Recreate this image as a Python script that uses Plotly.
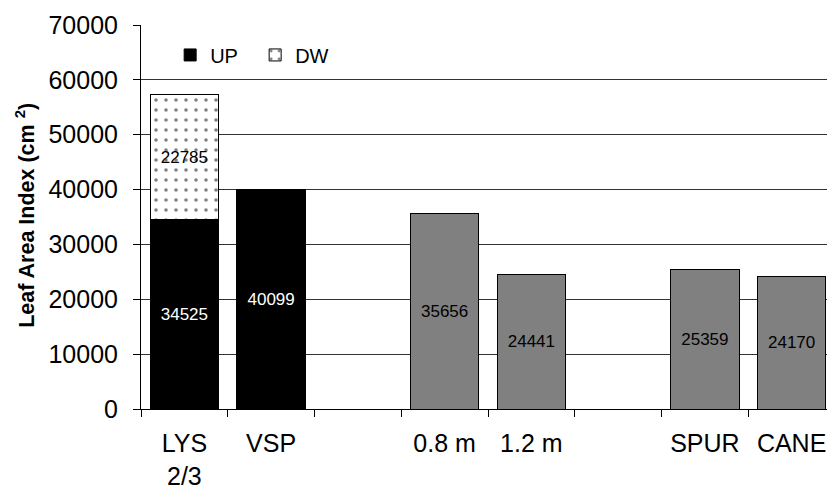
import plotly.graph_objects as go

categories = ["LYS<br>2/3", "VSP", " ", "0.8 m", "1.2 m", "  ", "SPUR", "CANE"]
up_cats = ["LYS<br>2/3", "VSP"]
up_vals = [34525, 40099]
dw_cats = ["LYS<br>2/3"]
dw_vals = [22785]
gray_cats = ["0.8 m", "1.2 m", "SPUR", "CANE"]
gray_vals = [35656, 24441, 25359, 24170]
y_ticks = [0, 10000, 20000, 30000, 40000, 50000, 60000, 70000]

FONT = "Liberation Sans, Arial, sans-serif"

fig = go.Figure()
fig.add_trace(go.Bar(
    x=up_cats, y=up_vals, name="UP",
    marker=dict(color="black", line=dict(color="black", width=1)),
    text=[str(v) for v in up_vals], textposition="inside", insidetextanchor="middle",
    textfont=dict(color="white", size=17, family=FONT),
))
fig.add_trace(go.Bar(
    x=dw_cats, y=dw_vals, name="DW",
    marker=dict(color="white", line=dict(color="black", width=1),
                pattern=dict(shape=".", fgcolor="black", bgcolor="white", size=10, solidity=0.1)),
    text=[str(v) for v in dw_vals], textposition="inside", insidetextanchor="middle",
    textfont=dict(color="black", size=17, family=FONT),
))
fig.add_trace(go.Bar(
    x=gray_cats, y=gray_vals, name="other", showlegend=False,
    marker=dict(color="#808080", line=dict(color="black", width=1)),
    text=[str(v) for v in gray_vals], textposition="inside", insidetextanchor="middle",
    textfont=dict(color="black", size=17, family=FONT),
))

fig.update_layout(
    width=827, height=480,
    barmode="stack", bargap=0.21,
    plot_bgcolor="white", paper_bgcolor="white",
    margin=dict(l=133, r=0, t=17, b=79),
    font=dict(family=FONT, color="black"),
    legend=dict(orientation="h", x=0.042, y=0.922, xanchor="left", yanchor="middle",
                font=dict(size=20), bgcolor="rgba(0,0,0,0)", traceorder="normal",
                entrywidth=40, entrywidthmode="pixels"),
    uniformtext=dict(mode=False),
    annotations=[dict(
        text="<b>Leaf Area Index (cm <sup>2</sup>)</b>", textangle=-90,
        xref="paper", yref="paper", x=(17 - 133) / 694, y=0.503,
        xanchor="center", yanchor="middle", showarrow=False,
        font=dict(size=21.5, family=FONT),
    )],
)
fig.update_xaxes(
    type="category", categoryorder="array", categoryarray=categories,
    range=[-0.5, 7.5], tickson="boundaries", ticks="outside", ticklen=7,
    tickcolor="black", showline=True, linecolor="black", linewidth=1,
    tickfont=dict(size=25, family=FONT), ticklabelstandoff=12,
    showgrid=False, automargin=False,
)
fig.update_yaxes(
    range=[0, 70000], tickvals=y_ticks, ticktext=[str(v) for v in y_ticks],
    ticks="outside", ticklen=7, tickcolor="black",
    showline=True, linecolor="black", linewidth=1,
    showgrid=True, gridcolor="#333333", gridwidth=1,
    zeroline=False, automargin=False,
    tickfont=dict(size=25, family=FONT), ticklabelstandoff=10,
)
fig.write_html("out.html")
